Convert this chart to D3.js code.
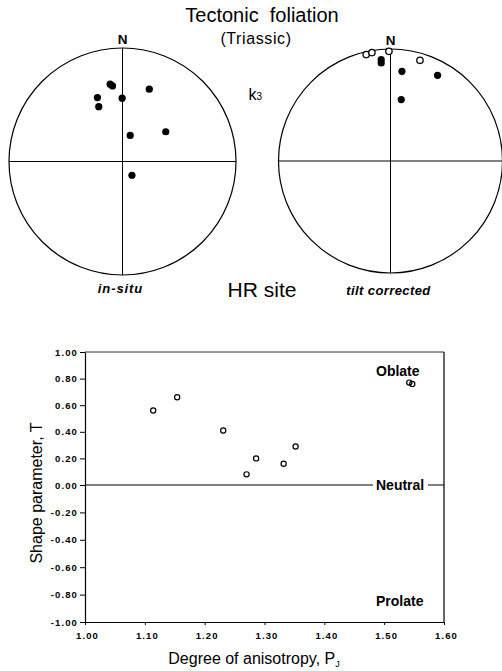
<!DOCTYPE html>
<html>
<head>
<meta charset="utf-8">
<script src="https://cdn.jsdelivr.net/npm/d3@7.9.0/dist/d3.min.js"></script>
<style>
  html, body { margin: 0; padding: 0; background: #fff; }
  svg { display: block; font-family: "Liberation Sans", Arial, sans-serif; }
</style>
</head>
<body>
<svg id="chart" width="502" height="671"></svg>
<script>
// k3 axes, as east / north offsets in units of the net radius
const insituEast  = [-0.109, -0.088, -0.221, -0.209, -0.003, 0.236, 0.068, 0.381, 0.083];
const insituNorth = [ 0.681,  0.666,  0.563,  0.483,  0.558, 0.637, 0.230, 0.262, -0.121];
const tiltFilledEast  = [-0.083, -0.083, 0.102, 0.420, 0.096];
const tiltFilledNorth = [ 0.905,  0.875, 0.801, 0.765, 0.548];
const tiltOpenEast  = [-0.217, -0.166, -0.014, 0.263];
const tiltOpenNorth = [ 0.950,  0.968,  0.979, 0.899];

// Pj - T plot
const pjValues = [1.114, 1.154, 1.231, 1.270, 1.286, 1.332, 1.352, 1.542, 1.547];
const tValues  = [0.56, 0.66, 0.41, 0.08, 0.20, 0.16, 0.29, 0.77, 0.76];
const xTicks = [1.00, 1.10, 1.20, 1.30, 1.40, 1.50, 1.60];
const yTicks = [-1.00, -0.80, -0.60, -0.40, -0.20, 0.00, 0.20, 0.40, 0.60, 0.80, 1.00];
const shapeLabels = ['Oblate', 'Neutral', 'Prolate'];
const shapeLabelT = [0.86, 0.0, -0.85];

const svg = d3.select('#chart');

// titles
svg.append('text').attr('x', 262).attr('y', 22).attr('text-anchor', 'middle')
  .attr('font-size', 20).attr('xml:space', 'preserve').text('Tectonic  foliation');
svg.append('text').attr('x', 256).attr('y', 44).attr('text-anchor', 'middle')
  .attr('font-size', 16).attr('letter-spacing', 0.6).text('(Triassic)');
svg.append('text').attr('x', 262).attr('y', 297).attr('text-anchor', 'middle')
  .attr('font-size', 21).text('HR site');
const k3 = svg.append('text').attr('x', 248.5).attr('y', 100).attr('font-size', 16);
k3.append('tspan').text('k');
k3.append('tspan').attr('font-size', 10).text('3');

function drawNet(cx, cy, r, label, labelY) {
  const g = svg.append('g');
  const x = d3.scaleLinear().domain([-1, 1]).range([cx - r, cx + r]);
  const y = d3.scaleLinear().domain([-1, 1]).range([cy + r, cy - r]);
  g.append('circle').attr('cx', x(0)).attr('cy', y(0)).attr('r', r)
    .attr('fill', 'none').attr('stroke', '#000').attr('stroke-width', 1.2);
  g.append('line').attr('x1', x(-1)).attr('x2', x(1)).attr('y1', y(0)).attr('y2', y(0))
    .attr('stroke', '#000').attr('stroke-width', 1);
  g.append('line').attr('x1', x(0)).attr('x2', x(0)).attr('y1', y(1)).attr('y2', y(-1))
    .attr('stroke', '#000').attr('stroke-width', 1);
  g.append('text').attr('x', x(0)).attr('y', y(1) - 4).attr('text-anchor', 'middle')
    .attr('font-size', 13.5).attr('font-weight', 'bold').text('N');
  g.append('text').attr('x', x(0) - 2).attr('y', labelY).attr('text-anchor', 'middle')
    .attr('font-size', 13).attr('font-weight', 'bold').attr('font-style', 'italic')
    .attr('letter-spacing', label === 'in-situ' ? 0.9 : 0.4).text(label);
  return { g, x, y };
}

const left = drawNet(122.5, 161.5, 113.5, 'in-situ', 293);
left.g.selectAll('circle.k3')
  .data(d3.range(insituEast.length))
  .join('circle').attr('class', 'k3')
  .attr('cx', i => left.x(insituEast[i])).attr('cy', i => left.y(insituNorth[i]))
  .attr('r', 3.6).attr('fill', '#000');

const right = drawNet(390.5, 161, 112, 'tilt corrected', 295);
right.g.selectAll('circle.filled')
  .data(d3.range(tiltFilledEast.length))
  .join('circle').attr('class', 'filled')
  .attr('cx', i => right.x(tiltFilledEast[i])).attr('cy', i => right.y(tiltFilledNorth[i]))
  .attr('r', 3.6).attr('fill', '#000');
right.g.selectAll('circle.open')
  .data(d3.range(tiltOpenEast.length))
  .join('circle').attr('class', 'open')
  .attr('cx', i => right.x(tiltOpenEast[i])).attr('cy', i => right.y(tiltOpenNorth[i]))
  .attr('r', 3.2).attr('fill', '#fff').attr('stroke', '#000').attr('stroke-width', 1.3);

// Pj - T scatter
const xs = d3.scaleLinear().domain([1.0, 1.6]).range([85, 444]);
const ys = d3.scaleLinear().domain([-1, 0, 1]).range([622, 485, 352]);
const fmt = d => d.toFixed(2);

const plot = svg.append('g');
plot.append('line').attr('x1', xs(1.0)).attr('x2', xs(1.6)).attr('y1', ys(1)).attr('y2', ys(1))
  .attr('stroke', '#333').attr('stroke-width', 1);
plot.append('line').attr('x1', xs(1.6)).attr('x2', xs(1.6)).attr('y1', ys(1)).attr('y2', ys(-1))
  .attr('stroke', '#000').attr('stroke-width', 1.2);

const yAxis = plot.append('g').attr('transform', `translate(${xs(1.0)},0)`)
  .call(d3.axisLeft(ys).tickValues(yTicks).tickSize(5).tickSizeOuter(0).tickFormat(fmt));
const xAxis = plot.append('g').attr('transform', `translate(0,${ys(-1)})`)
  .call(d3.axisBottom(xs).tickValues(xTicks).tickSize(3).tickSizeOuter(0).tickFormat(fmt));
[xAxis, yAxis].forEach(ax => {
  ax.select('.domain').attr('stroke', '#000').attr('stroke-width', 1.2);
  ax.selectAll('.tick line').attr('stroke', '#000');
  ax.selectAll('.tick text').attr('font-family', '"Liberation Sans", Arial, sans-serif')
    .attr('font-size', 9.5).attr('font-weight', 'bold').attr('letter-spacing', 1.1)
    .attr('fill', '#000');
});
yAxis.selectAll('.tick text').attr('x', -7);
xAxis.selectAll('.tick text').attr('y', 10).attr('dx', 2);

// neutral line, broken around its label
plot.append('line').attr('x1', xs(1.0)).attr('x2', 373).attr('y1', ys(0)).attr('y2', ys(0))
  .attr('stroke', '#000').attr('stroke-width', 1);
plot.append('line').attr('x1', 428).attr('x2', xs(1.6)).attr('y1', ys(0)).attr('y2', ys(0))
  .attr('stroke', '#000').attr('stroke-width', 1);

plot.selectAll('text.shape')
  .data(shapeLabels)
  .join('text').attr('class', 'shape')
  .attr('x', 376).attr('y', (d, i) => ys(shapeLabelT[i]) + 5)
  .attr('font-size', 14).attr('font-weight', 'bold').text(d => d);

plot.selectAll('circle.pt')
  .data(d3.range(pjValues.length))
  .join('circle').attr('class', 'pt')
  .attr('cx', i => xs(pjValues[i])).attr('cy', i => ys(tValues[i]))
  .attr('r', 2.6).attr('fill', 'none').attr('stroke', '#000').attr('stroke-width', 1.2);

// axis titles
const xt = svg.append('text').attr('x', 254).attr('y', 664).attr('text-anchor', 'middle')
  .attr('font-size', 16);
xt.append('tspan').text('Degree of anisotropy, P');
xt.append('tspan').attr('font-size', 9).attr('dy', 3).text('J');
svg.append('text').attr('transform', 'translate(42,493) rotate(-90)')
  .attr('text-anchor', 'middle').attr('font-size', 16).text('Shape parameter, T');
</script>
</body>
</html>
